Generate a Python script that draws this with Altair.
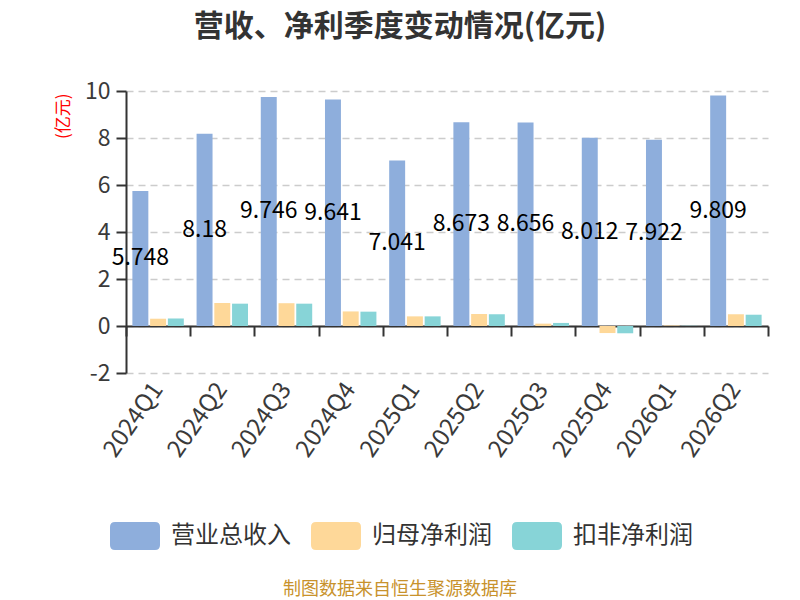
import altair as alt
import pandas as pd

quarters = ["2024Q1", "2024Q2", "2024Q3", "2024Q4", "2025Q1",
            "2025Q2", "2025Q3", "2025Q4", "2026Q1", "2026Q2"]
series_names = ["营业总收入", "归母净利润", "扣非净利润"]
revenue = [5.748, 8.18, 9.746, 9.641, 7.041, 8.673, 8.656, 8.012, 7.922, 9.809]
revenue_labels = ["5.748", "8.18", "9.746", "9.641", "7.041",
                  "8.673", "8.656", "8.012", "7.922", "9.809"]
net_profit = [0.31, 0.98, 0.97, 0.62, 0.41, 0.51, 0.10, -0.30, 0.02, 0.50]
deducted_profit = [0.32, 0.95, 0.95, 0.61, 0.41, 0.50, 0.13, -0.31, 0.01, 0.48]
colors = ["#8eaedc", "#fed899", "#87d4d7"]
y_ticks = [-2, 0, 2, 4, 6, 8, 10]
title_text = "营收、净利季度变动情况(亿元)"
footer_text = "制图数据来自恒生聚源数据库"

FONT = "Noto Sans CJK SC"

rows = []
for i, q in enumerate(quarters):
    for s, vals in zip(series_names, [revenue, net_profit, deducted_profit]):
        rows.append({"quarter": q, "series": s, "value": vals[i]})
df = pd.DataFrame(rows)
label_df = pd.DataFrame({"quarter": quarters, "series": series_names[0],
                         "value": revenue, "label": revenue_labels})
footer_df = pd.DataFrame({"t": [footer_text]})

x_scale = alt.Scale(domain=quarters, paddingInner=0, paddingOuter=0)
xo_enc = alt.XOffset("series:N", scale=alt.Scale(domain=series_names, paddingInner=0.1, paddingOuter=0.36))
y_scale = alt.Scale(domain=[-2, 10], nice=False, zero=False)

bars = alt.Chart(df).mark_bar().encode(
    x=alt.X("quarter:N", scale=x_scale, sort=quarters,
            axis=alt.Axis(title=None, labelAngle=-55, labelFontSize=24, labelColor="#3a3a3a",
                          labelFont=FONT, domain=False, ticks=False, labelAlign="right",
                          labelBaseline="middle", labelPadding=12, grid=False, orient="bottom")),
    xOffset=xo_enc,
    y=alt.Y("value:Q", scale=y_scale,
            axis=alt.Axis(values=y_ticks, title="(亿元)", titleColor="red", titleFontSize=17,
                          titleFont=FONT, titleFontWeight="normal", titleAngle=-90,
                          titleX=-63, titleY=2, titleAlign="right", titleBaseline="middle",
                          labelExpr="toString(datum.value)",
                          labelFontSize=23, labelColor="#3a3a3a", labelFont=FONT, labelPadding=6,
                          domainColor="#333", domainWidth=2, tickColor="#333", tickWidth=2,
                          tickSize=10, grid=True, gridColor="#cccccc", gridDash=[7, 5],
                          gridWidth=1.5)),
    color=alt.Color("series:N", scale=alt.Scale(domain=series_names, range=colors),
                    legend=alt.Legend(title=None, orient="none", legendX=-16, legendY=420,
                                      direction="horizontal", symbolType="M-0.8,-0.56L0.8,-0.56Q1,-0.56,1,-0.36L1,0.36Q1,0.56,0.8,0.56L-0.8,0.56Q-1,0.56,-1,0.36L-1,-0.36Q-1,-0.56,-0.8,-0.56Z",
                                      symbolSize=2500, symbolStrokeWidth=0, symbolOpacity=1,
                                      labelFontSize=24, labelFont=FONT, labelColor="#333",
                                      labelOffset=11, columnPadding=20, padding=0)),
)

labels = alt.Chart(label_df).transform_calculate(
    mid="datum.value / 2"
).mark_text(fontSize=23, font=FONT, color="black", baseline="middle", align="center").encode(
    x=alt.X("quarter:N", scale=x_scale, sort=quarters,
            axis=alt.Axis(title=None, orient="bottom", offset=-47, labels=False, domain=True,
                          ticks=True, tickBand="extent", tickSize=10, tickWidth=2,
                          tickColor="#333", domainColor="#333", domainWidth=2, grid=False)),
    xOffset=xo_enc,
    y=alt.Y("mid:Q", scale=y_scale),
    text="label:N",
)

footer = alt.Chart(footer_df).mark_text(fontSize=18, font=FONT, color="#c8922c",
                                         baseline="middle", align="center").encode(
    text="t:N", x=alt.value(274), y=alt.value(499)
)

chart = alt.layer(bars, labels, footer).resolve_axis(x="independent").properties(
    width=642, height=282,
    padding={"left": 118, "top": 83, "right": 24, "bottom": 240},
    autosize=alt.AutoSizeParams(type="none"),
    title=alt.Title(title_text, fontSize=30, fontWeight="bold", color="#333", font=FONT,
                    anchor="middle", frame="group", dx=-47, offset=38),
    background="white",
).configure_view(stroke=None)

chart.save("out.html", embed_options={"renderer": "svg", "actions": False})
